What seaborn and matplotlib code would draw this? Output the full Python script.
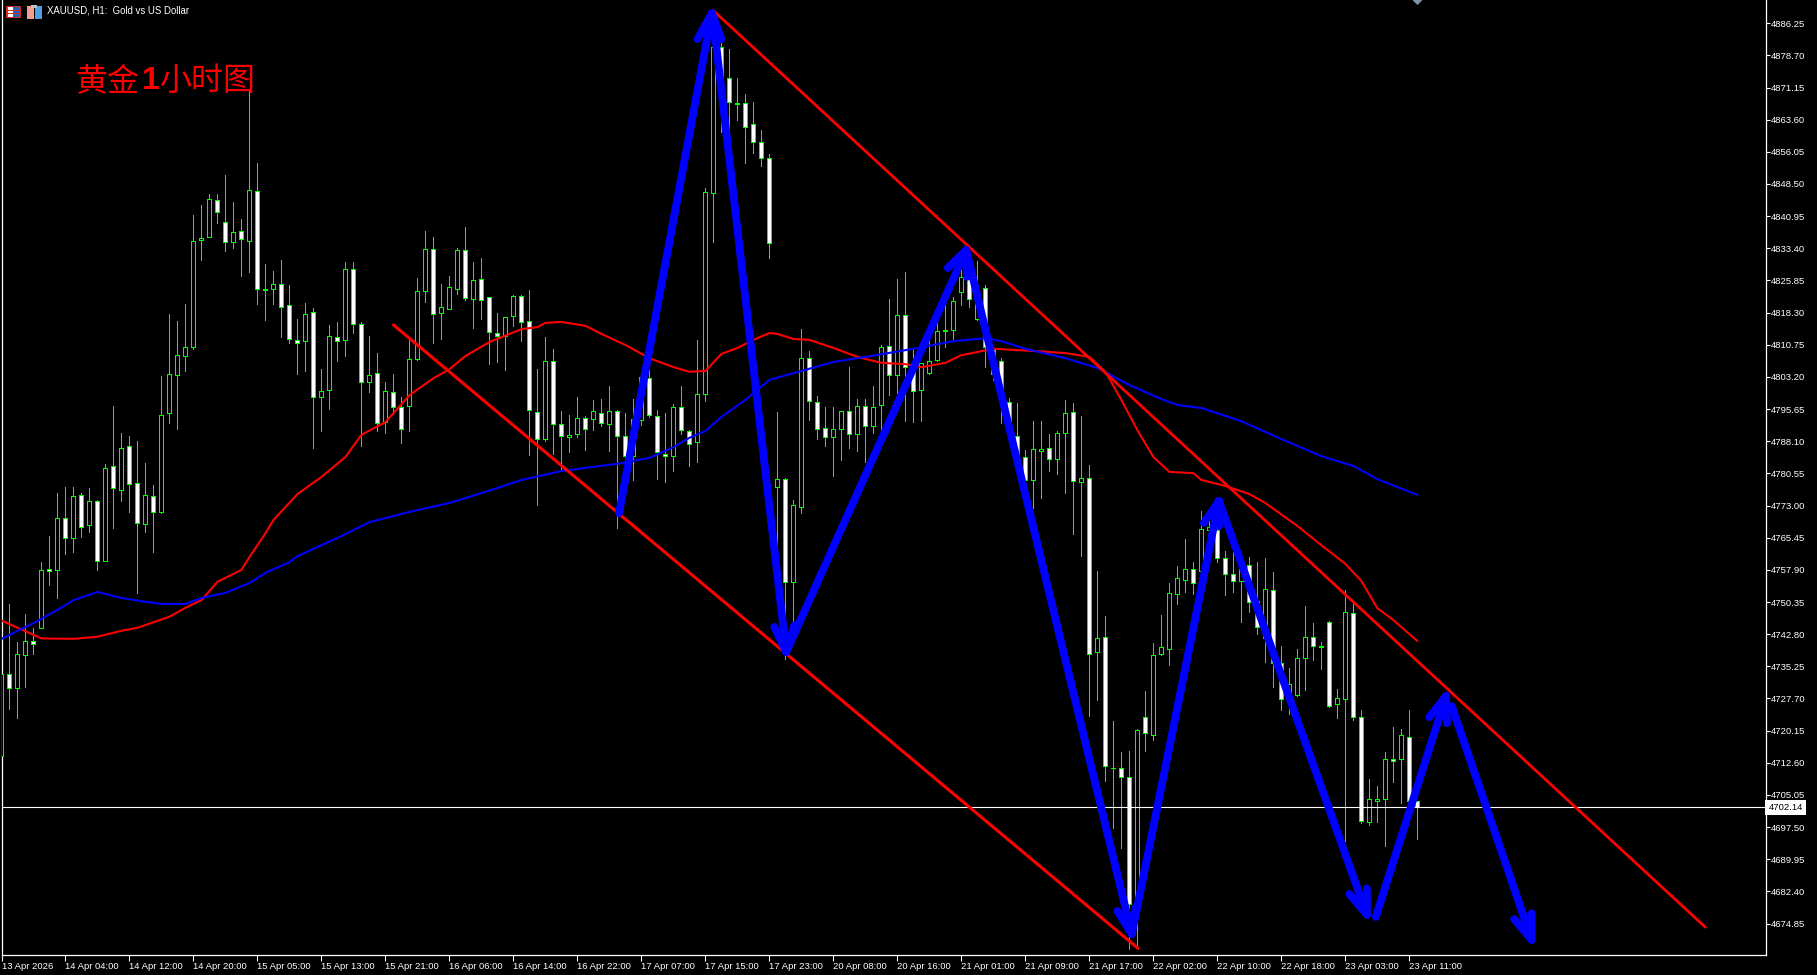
"""
XAUUSD H1 candlestick chart with hand drawn trend lines and wave arrows.
"""

import matplotlib
matplotlib.use("Agg")
import matplotlib.pyplot as plt
from matplotlib.patches import Rectangle
import numpy as np
import seaborn as sns

# ============================================================
# Data
# ============================================================
opens = [
    4714.2, 4733.4, 4730.2, 4737.9, 4741.1, 4744.2, 4758.1, 4757.9, 4770.1, 4765.4,
    4775.5, 4768.4, 4774.1, 4760.0, 4782.3, 4776.6, 4787.0, 4778.3, 4768.7, 4775.2,
    4771.5, 4794.7, 4803.6, 4808.1, 4810.2, 4835.3, 4836.0, 4844.7, 4839.6, 4834.9,
    4837.5, 4835.1, 4846.9, 4823.8, 4823.8, 4825.0, 4820.1, 4811.9, 4811.6, 4818.4,
    4798.5, 4800.1, 4812.6, 4811.9, 4828.5, 4815.6, 4802.0, 4804.1, 4792.6, 4799.7,
    4796.1, 4796.4, 4807.4, 4823.4, 4833.2, 4818.2, 4819.1, 4823.8, 4833.0, 4821.5,
    4826.2, 4822.0, 4813.5, 4812.8, 4817.5, 4822.2, 4816.3, 4795.0, 4788.6, 4806.9,
    4792.1, 4789.1, 4789.8, 4793.6, 4793.3, 4794.7, 4792.1, 4795.2, 4789.3, 4784.6,
    4793.1, 4803.0, 4794.0, 4785.1, 4784.6, 4796.1, 4790.5, 4787.9, 4799.2, 4846.4,
    4880.7, 4873.4, 4867.5, 4867.5, 4862.6, 4858.4, 4854.6, 4777.3, 4779.2, 4755.0,
    4772.7, 4807.6, 4797.3, 4791.2, 4789.1, 4791.0, 4795.2, 4789.8, 4796.4, 4791.7,
    4796.6, 4810.5, 4803.6, 4817.7, 4805.5, 4800.1, 4804.1, 4807.2, 4814.0, 4814.2,
    4823.1, 4826.4, 4816.8, 4824.1, 4810.0, 4806.9, 4797.3, 4789.3, 4784.4, 4779.0,
    4785.8, 4786.5, 4783.9, 4790.0, 4795.0, 4778.5, 4779.5, 4738.6, 4742.1, 4711.4,
    4711.4, 4709.3, 4679.4, 4723.3, 4719.1, 4738.1, 4739.3, 4752.2, 4755.5, 4758.1,
    4757.6, 4767.3, 4767.3, 4760.7, 4757.0, 4755.3, 4759.0, 4750.6, 4741.9, 4753.2,
    4736.0, 4727.3, 4728.5, 4737.3, 4742.1, 4740.0, 4745.7, 4726.3, 4727.6, 4747.8,
    4723.4, 4698.7, 4703.7, 4704.2, 4713.6, 4713.4, 4718.6, 4703.6,
]
highs = [
    4741.4, 4749.9, 4741.0, 4747.5, 4744.2, 4759.7, 4765.8, 4775.9, 4777.3, 4777.3,
    4775.9, 4777.1, 4774.3, 4782.8, 4796.4, 4790.0, 4789.3, 4788.2, 4783.0, 4777.8,
    4803.4, 4818.0, 4816.3, 4820.3, 4841.2, 4843.6, 4846.2, 4846.2, 4850.6, 4844.3,
    4840.3, 4870.3, 4853.4, 4829.7, 4828.1, 4830.7, 4824.8, 4816.8, 4820.6, 4819.4,
    4805.1, 4815.4, 4816.1, 4830.2, 4830.2, 4816.1, 4812.8, 4808.8, 4802.0, 4803.9,
    4798.5, 4811.9, 4826.4, 4837.5, 4836.0, 4825.0, 4826.9, 4833.5, 4838.4, 4830.2,
    4831.1, 4822.0, 4818.2, 4817.3, 4822.4, 4822.4, 4823.6, 4805.1, 4812.6, 4809.8,
    4795.2, 4794.3, 4798.5, 4794.0, 4797.8, 4798.0, 4801.1, 4795.4, 4794.7, 4798.0,
    4804.4, 4804.8, 4795.4, 4794.7, 4796.8, 4801.1, 4790.7, 4811.9, 4847.6, 4882.3,
    4884.9, 4880.2, 4873.4, 4869.6, 4867.8, 4861.2, 4855.5, 4795.0, 4779.5, 4774.3,
    4814.4, 4809.3, 4798.7, 4796.1, 4796.1, 4795.2, 4805.5, 4798.0, 4798.0, 4801.1,
    4810.7, 4821.5, 4826.2, 4827.8, 4809.5, 4806.5, 4811.9, 4816.1, 4820.3, 4822.0,
    4828.3, 4829.5, 4830.4, 4824.8, 4810.2, 4807.6, 4798.2, 4797.1, 4786.0, 4792.8,
    4792.8, 4789.8, 4790.5, 4797.8, 4797.1, 4794.0, 4782.5, 4757.6, 4747.1, 4722.4,
    4715.1, 4715.4, 4720.5, 4729.5, 4740.7, 4747.4, 4754.8, 4758.8, 4765.1, 4759.7,
    4771.7, 4770.3, 4768.7, 4762.3, 4762.2, 4760.2, 4760.9, 4759.7, 4760.7, 4757.4,
    4740.0, 4734.9, 4739.3, 4749.3, 4745.4, 4740.9, 4745.9, 4729.9, 4753.2, 4749.9,
    4725.0, 4708.8, 4707.1, 4715.1, 4721.0, 4720.5, 4725.0, 4703.6,
]
lows = [
    4714.2, 4725.2, 4723.1, 4730.4, 4738.1, 4744.2, 4754.3, 4751.3, 4761.6, 4762.1,
    4765.6, 4766.8, 4757.9, 4760.0, 4767.7, 4774.1, 4771.5, 4752.5, 4766.8, 4762.1,
    4771.2, 4792.4, 4791.0, 4804.6, 4809.8, 4830.7, 4836.0, 4839.3, 4832.8, 4833.5,
    4826.9, 4827.8, 4820.3, 4816.6, 4820.3, 4812.6, 4811.2, 4803.9, 4804.6, 4786.5,
    4790.5, 4795.7, 4806.9, 4808.1, 4813.5, 4787.0, 4799.7, 4790.5, 4790.0, 4794.5,
    4787.7, 4790.5, 4807.2, 4820.8, 4811.2, 4812.1, 4819.1, 4822.7, 4821.3, 4814.7,
    4816.8, 4806.2, 4806.7, 4804.8, 4815.2, 4811.6, 4784.9, 4773.1, 4788.2, 4785.1,
    4781.3, 4785.6, 4789.1, 4786.0, 4790.7, 4791.7, 4785.8, 4767.7, 4782.5, 4779.0,
    4791.9, 4793.8, 4779.2, 4778.5, 4781.1, 4789.8, 4782.3, 4783.2, 4797.5, 4834.9,
    4860.7, 4859.1, 4863.5, 4853.4, 4855.8, 4852.7, 4831.1, 4763.5, 4737.0, 4745.4,
    4771.2, 4793.1, 4788.6, 4787.0, 4779.9, 4783.7, 4786.5, 4785.8, 4783.2, 4790.0,
    4790.0, 4798.9, 4799.4, 4792.8, 4792.6, 4792.8, 4803.9, 4806.9, 4810.2, 4812.1,
    4820.1, 4819.6, 4816.6, 4805.5, 4802.5, 4792.4, 4790.7, 4783.0, 4778.3, 4772.4,
    4774.8, 4781.1, 4780.4, 4775.9, 4766.3, 4761.1, 4723.6, 4727.3, 4708.3, 4697.3,
    4692.6, 4668.9, 4669.3, 4715.4, 4717.9, 4737.9, 4735.5, 4749.9, 4752.7, 4752.2,
    4756.2, 4763.3, 4759.7, 4751.9, 4752.6, 4745.7, 4748.0, 4742.9, 4736.3, 4730.4,
    4725.0, 4724.1, 4728.3, 4729.7, 4736.7, 4734.6, 4725.7, 4723.1, 4694.2, 4722.6,
    4698.5, 4698.0, 4698.7, 4693.1, 4708.2, 4703.2, 4703.6, 4694.7,
]
closes = [
    4733.4, 4730.2, 4738.1, 4741.2, 4740.6, 4757.9, 4757.6, 4770.1, 4765.4, 4775.2,
    4768.0, 4774.1, 4760.0, 4781.8, 4777.1, 4786.5, 4778.1, 4768.9, 4775.5, 4771.5,
    4794.3, 4803.9, 4808.3, 4810.2, 4835.1, 4835.8, 4845.0, 4841.9, 4834.9, 4837.2,
    4835.6, 4847.1, 4823.8, 4823.7, 4825.0, 4819.6, 4812.1, 4811.2, 4818.0, 4798.5,
    4799.9, 4812.8, 4811.6, 4828.5, 4815.6, 4802.0, 4803.6, 4792.4, 4799.9, 4796.1,
    4791.0, 4807.4, 4823.4, 4833.2, 4818.0, 4819.6, 4824.3, 4833.0, 4821.7, 4825.9,
    4821.3, 4813.7, 4812.8, 4817.3, 4822.2, 4816.1, 4795.4, 4788.6, 4806.9, 4792.1,
    4789.3, 4789.6, 4793.6, 4791.0, 4795.2, 4792.4, 4795.2, 4789.3, 4784.6, 4793.3,
    4803.2, 4794.3, 4785.6, 4784.6, 4796.1, 4790.7, 4787.4, 4799.2, 4846.6, 4880.7,
    4873.4, 4867.8, 4867.3, 4861.9, 4858.4, 4854.6, 4834.6, 4779.2, 4755.0, 4773.1,
    4807.6, 4797.5, 4791.0, 4789.1, 4791.0, 4795.2, 4789.8, 4796.4, 4791.7, 4796.1,
    4810.2, 4803.6, 4817.7, 4805.5, 4799.9, 4806.5, 4806.9, 4814.0, 4814.2, 4821.0,
    4826.7, 4821.5, 4823.6, 4810.2, 4803.9, 4799.4, 4792.4, 4784.4, 4779.0, 4786.3,
    4786.3, 4783.9, 4790.0, 4794.7, 4778.8, 4779.5, 4738.1, 4741.9, 4711.8, 4711.3,
    4709.3, 4679.4, 4720.4, 4719.6, 4737.8, 4739.7, 4752.5, 4756.0, 4758.1, 4754.8,
    4767.4, 4768.0, 4760.7, 4757.0, 4755.3, 4759.7, 4750.3, 4744.5, 4753.3, 4736.0,
    4727.5, 4731.1, 4737.1, 4742.1, 4740.1, 4739.9, 4726.0, 4727.8, 4748.0, 4723.4,
    4699.0, 4704.1, 4704.2, 4713.5, 4713.1, 4719.2, 4703.6, 4702.14,
]

# Moving averages, read at the bars where the line visibly bends
red_ma_bars = [
    0, 5, 9, 12, 15, 17, 21, 23, 25, 27, 30, 31, 33, 34, 37, 40, 43, 45, 48, 51,
    54, 56, 58, 61, 65, 67, 68, 70, 73, 75, 78, 81, 84, 86, 88, 90, 92, 94, 96, 97,
    99, 101, 104, 107, 110, 113, 115, 118, 120, 124, 129, 133, 136, 138, 140, 142,
    144, 146, 149, 150, 153, 156, 158, 162, 165, 168, 170, 172, 174, 177,
]
red_ma_values = [
    4746.0, 4741.8, 4741.7, 4742.2, 4743.6, 4744.3, 4746.9, 4749.0, 4750.8, 4755.1,
    4757.9, 4760.9, 4766.5, 4769.6, 4775.7, 4779.7, 4784.4, 4789.6, 4792.6, 4798.9,
    4802.9, 4805.0, 4808.1, 4811.4, 4814.4, 4814.9, 4815.9, 4816.1, 4815.2, 4813.3,
    4810.7, 4807.6, 4805.5, 4804.4, 4804.6, 4808.6, 4810.0, 4811.9, 4813.5, 4813.3,
    4812.1, 4811.9, 4810.0, 4807.9, 4806.5, 4806.2, 4805.5, 4806.5, 4808.3, 4809.8,
    4809.3, 4808.8, 4807.9, 4804.4, 4797.8, 4790.7, 4784.4, 4780.9, 4780.6, 4779.0,
    4777.6, 4775.7, 4773.6, 4768.2, 4763.7, 4759.3, 4755.3, 4748.9, 4746.1, 4741.2,
]
blue_ma_bars = [
    0, 4, 7, 9, 12, 15, 18, 20, 23, 25, 28, 31, 33, 36, 37, 42, 46, 51, 56, 60,
    65, 70, 77, 81, 84, 86, 88, 90, 93, 96, 100, 104, 108, 114, 119, 123, 125, 128,
    133, 137, 141, 145, 147, 150, 155, 160, 165, 169, 172, 177,
]
blue_ma_values = [
    4741.7, 4745.4, 4748.5, 4750.8, 4752.7, 4751.3, 4750.4, 4749.9, 4749.9, 4751.3,
    4752.5, 4754.8, 4757.2, 4759.7, 4761.1, 4765.4, 4769.1, 4771.5, 4773.6, 4775.9,
    4779.0, 4781.1, 4782.8, 4784.2, 4786.7, 4788.9, 4790.5, 4793.8, 4797.8, 4802.5,
    4804.6, 4806.7, 4807.9, 4809.8, 4811.6, 4812.3, 4811.6, 4809.8, 4807.6, 4805.3,
    4801.3, 4798.0, 4796.6, 4795.9, 4792.8, 4788.6, 4784.6, 4782.3, 4779.2, 4775.5,
]

# Hand drawn objects, as (bar, price)
lower_trend = [(49.0, 4815.4), (142.1, 4669.0)]
upper_trend = [(89.0, 4889.2), (213.0, 4674.0)]
arrow_starts = [(77.2, 4771.2), (89.1, 4885.1), (98.1, 4738.6), (120.6, 4833.0),
                (141.3, 4672.4), (152.2, 4774.1), (171.8, 4676.4), (181.3, 4725.9)]
arrow_tips = [(88.8, 4888.6), (98.1, 4738.6), (120.6, 4833.0), (141.3, 4672.4),
              (152.2, 4774.1), (170.7, 4676.9), (180.6, 4728.3), (191.3, 4671.0)]
arrow_wings_a = [(87.0, 4882.5), (96.6, 4744.5), (118.3, 4828.8), (139.5, 4677.8),
                 (150.3, 4768.9), (168.5, 4681.8), (178.5, 4723.3), (189.1, 4675.9)]
arrow_wings_b = [(90.0, 4882.5), (99.1, 4744.9), (120.7, 4826.7), (141.8, 4678.7),
                 (152.2, 4768.2), (170.7, 4683.1), (180.7, 4721.9), (191.3, 4677.3)]

bid_price = 4702.14
price_ticks = [4886.25 - 7.55 * k for k in range(29)]
time_labels = [
    "13 Apr 2026", "14 Apr 04:00", "14 Apr 12:00", "14 Apr 20:00", "15 Apr 05:00",
    "15 Apr 13:00", "15 Apr 21:00", "16 Apr 06:00", "16 Apr 14:00", "16 Apr 22:00",
    "17 Apr 07:00", "17 Apr 15:00", "17 Apr 23:00", "20 Apr 08:00", "20 Apr 16:00",
    "21 Apr 01:00", "21 Apr 09:00", "21 Apr 17:00", "22 Apr 02:00", "22 Apr 10:00",
    "22 Apr 18:00", "23 Apr 03:00", "23 Apr 11:00",
]
time_ticks = [8 * k for k in range(len(time_labels))]

# ============================================================
# Figure
# ============================================================
sns.set_theme(style="dark", rc={"axes.facecolor": "black", "figure.facecolor": "black"})
plt.rcParams["font.family"] = ["Liberation Sans", "DejaVu Sans"]

W, H = 1817, 975
fig = plt.figure(figsize=(W / 100, H / 100), dpi=100)
left_px, right_px, bottom_px = 1.5, 1765.5, 955.0
ax = fig.add_axes([left_px / W, 1 - bottom_px / H, (right_px - left_px) / W, bottom_px / H])
ax.set_xlim((left_px - 1.3) / 8, (right_px - 1.3) / 8)
ax.set_ylim(4891.70 - bottom_px * 0.2348, 4891.70)

# ============================================================
# Candles
# ============================================================
GREEN = "#00FF00"
bars = np.arange(len(opens))
o, c = np.array(opens), np.array(closes)
ax.vlines(bars, lows, highs, color=GREEN, linewidth=0.72, antialiased=False, zorder=2)
ax.bar(bars, np.maximum(np.abs(c - o), 0.1), bottom=np.minimum(o, c), width=0.5,
       color=["white" if a > b else "black" for a, b in zip(o, c)],
       edgecolor=GREEN, linewidth=0.6, antialiased=False, zorder=3)

# ============================================================
# Lines
# ============================================================
def line(points, color, width, zorder):
    sns.lineplot(x=[p[0] for p in points], y=[p[1] for p in points], color=color,
                 linewidth=width, estimator=None, sort=False, errorbar=None, ax=ax,
                 zorder=zorder, solid_capstyle="round", legend=False, clip_on=True)


sns.lineplot(x=red_ma_bars, y=red_ma_values, color="#FF0000", linewidth=1.5,
             estimator=None, sort=False, ax=ax, zorder=4)
sns.lineplot(x=blue_ma_bars, y=blue_ma_values, color="#0000FF", linewidth=1.5,
             estimator=None, sort=False, ax=ax, zorder=4)
ax.axhline(bid_price, color="white", linewidth=0.8, zorder=5)
line(lower_trend, "#FF0000", 2.2, 6)
line(upper_trend, "#FF0000", 2.0, 6)

for start, tip, wing_a, wing_b in zip(arrow_starts, arrow_tips, arrow_wings_a, arrow_wings_b):
    line([start, tip], "#0000FF", 5.6, 7)
    line([wing_a, tip, wing_b], "#0000FF", 5.6, 7)

# ============================================================
# Axes and text
# ============================================================
ax.grid(False)
for side in ["top"]:
    ax.spines[side].set_visible(False)
for side in ["left", "right", "bottom"]:
    ax.spines[side].set_color("white")
    ax.spines[side].set_linewidth(0.9)

ax.yaxis.tick_right()
ax.set_yticks(price_ticks)
ax.set_yticklabels([f"{v:.2f}" for v in price_ticks])
ax.tick_params(axis="y", colors="white", labelsize=6.8, length=3, width=0.8, pad=1, right=True, left=False)
ax.set_xticks(time_ticks)
ax.set_xticklabels(time_labels, ha="left")
ax.tick_params(axis="x", colors="white", labelsize=6.8, length=4, width=0.8, pad=1, bottom=True)
ax.set_xlabel("")
ax.set_ylabel("")

# current price box on the scale
ax.text(1.0016, bid_price, f"{bid_price:.2f}", transform=ax.get_yaxis_transform(), color="black",
        fontsize=6.8, va="center", ha="left", zorder=10, clip_on=False,
        bbox=dict(boxstyle="square,pad=0.3", facecolor="white", edgecolor="none"))

# title pieces, the digit is a bold latin glyph in the original
CJK = ["Noto Sans CJK SC", "DejaVu Sans"]
for x_px, piece, weight, fam in [(75, "黄金", "normal", CJK), (141.5, "1", "bold", ["Liberation Sans"]),
                                 (159, "小时图", "normal", CJK)]:
    ax.text(x_px / W, 1 - 81 / H, piece, transform=fig.transFigure, color="#FF0000", fontsize=23,
            fontweight=weight, va="center", ha="left", family=fam, zorder=10)
ax.text(47 / W, 1 - 10.5 / H, "XAUUSD, H1:  Gold vs US Dollar", transform=fig.transFigure, color="white",
        fontsize=6.9, va="center", ha="left", zorder=10)

# small window icons in the top left corner
def icon_rect(x, y, w, h, color):
    fig.add_artist(Rectangle((x / W, 1 - (y + h) / H), w / W, h / H, transform=fig.transFigure,
                             facecolor=color, edgecolor="none", antialiased=False))


icon_rect(6, 6, 15, 12, "#D03020")
icon_rect(7.5, 7.5, 5, 9, "white")
icon_rect(13.5, 7.5, 6, 9, "#2060C0")
for row_y in [10, 13]:
    icon_rect(7.5, row_y, 12, 1, "#D03020")
icon_rect(27, 6, 7, 13, "#F0A090")
icon_rect(35, 6, 7, 13, "#50A0E0")
icon_rect(31, 5, 6, 3, "#C0C0C0")

ax.scatter([177.0], [4891.7], marker="D", s=22, color="#7F93A8", zorder=8, linewidths=0, clip_on=True)

fig.savefig("out.png", dpi=100, facecolor="black")
